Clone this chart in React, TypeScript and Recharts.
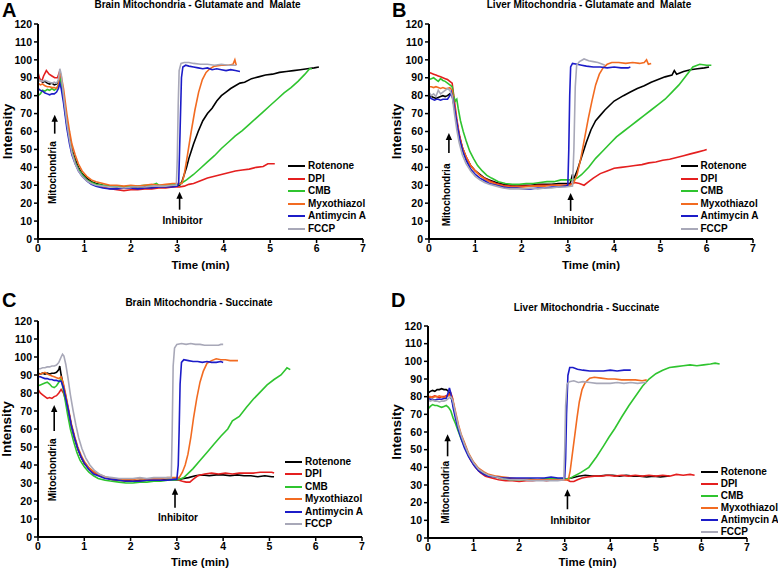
import React from "react";
import { LineChart, Line, XAxis, YAxis, ReferenceDot } from "recharts";

const SERIES_NAMES = ["Rotenone", "DPI", "CMB", "Myxothiazol", "Antimycin A", "FCCP"];
const SERIES_COLORS = ["#000000", "#e41f1f", "#2fc42f", "#f26b21", "#1c1cc8", "#a8a8b8"];
const X_TICKS = [0, 1, 2, 3, 4, 5, 6, 7];
const Y_TICKS = [0, 10, 20, 30, 40, 50, 60, 70, 80, 90, 100, 110, 120];

// A - brain, glutamate + malate
const A_ROTENONE = [[0,88],[0.05,89],[0.1,87.5],[0.15,88],[0.2,87],[0.25,86.5],[0.3,87],[0.35,86],[0.4,86.5],[0.44,88],[0.47,92],[0.5,88],[0.55,80],[0.62,66],[0.68,57],[0.73,50],[0.8,44.5],[0.87,40],[0.95,36.5],[1.05,34],[1.15,32],[1.25,31],[1.4,30],[1.55,29.5],[1.7,29],[1.85,28.5],[2.0,29],[2.15,28.5],[2.3,29],[2.45,29],[2.6,29.5],[2.75,29],[2.9,29.5],[3.0,29.5],[3.05,30],[3.1,32],[3.15,36],[3.2,40],[3.25,45],[3.3,49],[3.35,53],[3.45,60],[3.55,66],[3.65,70],[3.75,73],[3.85,77],[3.95,80],[4.05,82],[4.15,84],[4.25,85.5],[4.35,87],[4.45,87.5],[4.6,89.5],[4.75,90.5],[4.9,91.5],[5.05,92],[5.2,93],[5.35,93.5],[5.5,94],[5.65,94.5],[5.8,95],[5.95,95.5],[6.05,96]];
const A_DPI = [[0,93],[0.04,89],[0.08,88],[0.12,91],[0.18,94],[0.24,92],[0.3,91],[0.36,90],[0.42,90],[0.46,93],[0.5,89],[0.55,80],[0.62,66],[0.68,56],[0.73,49],[0.8,43],[0.87,39],[0.95,35.5],[1.05,33],[1.15,31],[1.25,30],[1.4,29],[1.55,28],[1.7,27.5],[1.85,27],[2.0,27.5],[2.15,27.5],[2.3,28],[2.45,28],[2.6,28.5],[2.75,28.5],[2.9,29],[3.05,29],[3.15,29.5],[3.25,30.5],[3.35,31],[3.5,32.5],[3.65,34],[3.8,35],[3.95,36],[4.1,37],[4.25,38],[4.4,38.5],[4.55,39],[4.7,40],[4.85,40.5],[4.95,42],[5.05,42],[5.1,42]];
const A_CMB = [[0,80],[0.05,81],[0.1,83],[0.15,82.5],[0.2,83.5],[0.25,83],[0.3,84],[0.35,83],[0.4,84],[0.44,86],[0.47,90],[0.5,87],[0.55,78],[0.62,64],[0.68,55],[0.73,48.5],[0.8,43],[0.87,39],[0.95,36],[1.05,33],[1.15,31.5],[1.25,30.5],[1.4,30],[1.55,29.5],[1.7,29.5],[1.85,29],[2.0,29.5],[2.15,29.5],[2.3,30],[2.45,30],[2.55,31],[2.6,30],[2.75,30],[2.9,30.5],[3.05,30.5],[3.2,33],[3.35,36],[3.5,39.5],[3.65,43],[3.8,46.5],[3.95,50.5],[4.1,54],[4.25,57.5],[4.4,60.5],[4.55,64],[4.7,67.5],[4.85,71],[5.0,74.5],[5.15,78],[5.3,81.5],[5.45,84.5],[5.6,88],[5.75,92],[5.85,95],[5.9,95]];
const A_MYXO = [[0,87],[0.05,86],[0.1,86.5],[0.15,85.5],[0.2,85],[0.25,85],[0.3,84.5],[0.35,84.5],[0.4,84],[0.44,86],[0.47,93],[0.5,91],[0.55,84],[0.62,70],[0.68,60],[0.73,53],[0.8,47],[0.87,42],[0.95,38],[1.05,35],[1.15,33],[1.25,32],[1.4,31],[1.55,30],[1.7,30],[1.85,29.5],[2.0,30],[2.15,29.5],[2.3,30],[2.45,30.5],[2.6,30],[2.75,30.5],[2.9,31],[3.0,31],[3.1,31],[3.15,36],[3.22,47],[3.3,60],[3.38,72],[3.46,82],[3.54,89],[3.62,93],[3.7,95],[3.8,96.5],[3.95,97],[4.1,97],[4.2,97.5],[4.24,100],[4.27,97]];
const A_ANTI = [[0,84],[0.05,83],[0.1,82.5],[0.15,81.5],[0.2,81],[0.25,80.5],[0.3,81],[0.35,81],[0.4,82],[0.44,84],[0.47,87],[0.5,84],[0.55,76],[0.62,62],[0.68,53],[0.73,47],[0.8,42],[0.87,38],[0.95,35],[1.05,32.5],[1.15,30.5],[1.25,29.5],[1.4,28.5],[1.55,28],[1.7,28],[1.85,28.5],[2.0,28.5],[2.15,28],[2.3,28.5],[2.45,28.5],[2.6,29],[2.75,29],[2.9,29],[3.0,29.5],[3.03,31],[3.06,60],[3.09,90],[3.12,96],[3.18,97],[3.25,96.5],[3.35,96],[3.45,95.5],[3.55,95],[3.65,95.5],[3.75,94.5],[3.85,95],[3.95,94.5],[4.05,94],[4.15,94.5],[4.25,94],[4.35,93.5]];
const A_FCCP = [[0,89],[0.05,88.5],[0.1,88],[0.15,88.5],[0.2,88],[0.25,87.5],[0.3,87],[0.35,87.5],[0.4,87],[0.44,89],[0.47,95],[0.5,92],[0.55,80],[0.62,65],[0.68,55],[0.73,48],[0.8,42],[0.87,38],[0.95,35],[1.05,32.5],[1.15,31],[1.25,30],[1.4,29.5],[1.55,29],[1.7,29],[1.85,28.5],[2.0,29],[2.15,29],[2.3,29],[2.45,29.5],[2.6,29.5],[2.75,29.5],[2.9,30],[2.98,30],[3.0,45],[3.02,75],[3.04,94],[3.08,98],[3.15,98.5],[3.25,98.5],[3.35,98],[3.5,97.5],[3.65,97.5],[3.8,97],[3.95,97.5],[4.1,97],[4.27,97]];

// B - liver, glutamate + malate
const B_ROTENONE = [[0,80],[0.05,79.5],[0.1,79],[0.15,78.5],[0.2,79],[0.25,79.5],[0.3,80],[0.35,79.5],[0.4,80],[0.45,81],[0.5,80],[0.55,73],[0.6,65],[0.65,58],[0.72,51],[0.8,45.5],[0.9,41],[1.0,38],[1.1,36],[1.2,34],[1.3,33],[1.45,31.5],[1.6,30.5],[1.75,30],[1.9,29.5],[2.05,30],[2.2,30],[2.35,30.5],[2.5,30.5],[2.65,30.5],[2.8,31],[2.95,31],[3.05,31],[3.08,34],[3.1,36],[3.12,33],[3.2,38],[3.3,46],[3.4,54],[3.5,61],[3.6,66],[3.7,69],[3.8,72],[3.9,74.5],[4.0,77],[4.1,78.5],[4.2,80],[4.35,82],[4.5,84],[4.65,85.5],[4.8,87.5],[4.95,89],[5.1,90.5],[5.25,91.5],[5.3,94],[5.35,92],[5.5,93.5],[5.65,94.5],[5.8,95],[5.95,95.5],[6.05,96]];
const B_DPI = [[0,93],[0.05,92.5],[0.1,92],[0.15,91.5],[0.2,91],[0.25,90.5],[0.3,90],[0.35,89.5],[0.4,89],[0.45,88],[0.5,87],[0.55,77],[0.6,67],[0.65,59],[0.72,51],[0.8,46],[0.9,41],[1.0,38],[1.1,35.5],[1.2,34],[1.3,32.5],[1.45,31],[1.6,30],[1.75,29.5],[1.9,29.5],[2.05,29.5],[2.2,29.5],[2.35,30],[2.5,30],[2.65,30],[2.8,30],[2.95,30],[3.05,30.5],[3.15,31.5],[3.25,31],[3.35,30],[3.45,32],[3.55,34],[3.7,36.5],[3.85,38],[4.0,39.5],[4.15,40],[4.3,40.5],[4.45,41],[4.6,41.5],[4.75,42.5],[4.9,43],[5.05,44],[5.2,44.5],[5.35,45.5],[5.5,46.5],[5.65,47.5],[5.8,48.5],[5.95,49.5],[6.0,50]];
const B_CMB = [[0,89],[0.05,89.5],[0.1,90],[0.15,89],[0.2,88],[0.25,89.5],[0.3,88.5],[0.35,88],[0.4,87],[0.45,86],[0.5,85],[0.53,80],[0.57,77],[0.6,78],[0.63,73],[0.68,66],[0.74,60],[0.8,55],[0.88,49],[0.96,45],[1.05,41],[1.15,38],[1.25,35.5],[1.35,34],[1.5,32],[1.65,31],[1.8,30.5],[1.95,30.5],[2.1,31],[2.25,31],[2.4,31.5],[2.55,32],[2.7,32],[2.85,33],[3.0,33],[3.1,33],[3.2,34],[3.3,36],[3.45,40],[3.6,45],[3.75,49],[3.9,53],[4.05,57],[4.2,60],[4.35,63],[4.5,66],[4.65,69],[4.8,72],[4.95,75],[5.1,78],[5.25,82],[5.4,86],[5.55,91],[5.7,96],[5.85,97.5],[6.0,97],[6.1,97]];
const B_MYXO = [[0,85],[0.05,85],[0.1,84.5],[0.15,85],[0.2,84.5],[0.25,84],[0.3,84.5],[0.35,84],[0.4,84],[0.45,84.5],[0.5,83],[0.55,74],[0.6,66],[0.65,58],[0.72,51],[0.8,46],[0.9,41],[1.0,38],[1.1,35.5],[1.2,33.5],[1.3,32],[1.45,30.5],[1.6,29.5],[1.75,29],[1.9,29],[2.05,29],[2.2,29.5],[2.35,29.5],[2.5,29.5],[2.65,30],[2.8,30],[2.95,30],[3.05,30],[3.12,31],[3.2,36],[3.28,45],[3.36,56],[3.44,67],[3.52,77],[3.6,86],[3.68,92],[3.76,95.5],[3.85,97.5],[3.95,98.5],[4.1,98.5],[4.25,98],[4.4,98.5],[4.55,98],[4.65,98.5],[4.7,100],[4.74,97.5],[4.8,98]];
const B_ANTI = [[0,80],[0.04,78.5],[0.08,78],[0.12,77.5],[0.16,78],[0.2,78],[0.25,77.5],[0.3,78],[0.35,78],[0.4,78],[0.45,80],[0.48,82],[0.52,78],[0.57,70],[0.62,62],[0.67,55],[0.73,49],[0.8,44],[0.9,39],[1.0,36],[1.1,34],[1.2,32.5],[1.3,31],[1.45,30],[1.6,29],[1.75,28.5],[1.9,28.5],[2.05,28],[2.2,28],[2.35,28.5],[2.5,28.5],[2.65,29],[2.8,29],[2.95,29.5],[3.0,30],[3.02,50],[3.04,80],[3.06,96],[3.1,98],[3.2,97.5],[3.3,97],[3.4,96.5],[3.55,96],[3.7,96],[3.85,95.5],[4.0,96],[4.15,95.5],[4.3,95.5],[4.35,96]];
const B_FCCP = [[0,82],[0.05,80],[0.1,81],[0.15,79.5],[0.2,83],[0.25,81],[0.3,82],[0.35,83],[0.4,84],[0.45,83],[0.5,80],[0.55,70],[0.6,61],[0.65,54],[0.72,47],[0.8,42],[0.9,38],[1.0,35],[1.1,33],[1.2,31.5],[1.3,30.5],[1.45,29.5],[1.6,28.5],[1.75,28],[1.9,28],[2.05,28],[2.2,28.5],[2.35,28],[2.5,28.5],[2.65,28.5],[2.8,29],[2.95,29],[3.1,29.5],[3.13,50],[3.16,85],[3.19,97],[3.25,99],[3.35,100.5],[3.45,99.5],[3.55,99],[3.65,98.5],[3.75,97.5],[3.8,97]];

// C - brain, succinate
const C_ROTENONE = [[0,91],[0.05,90.5],[0.1,91],[0.15,90.5],[0.2,91],[0.25,90.5],[0.3,91],[0.35,91],[0.4,91.5],[0.45,93],[0.47,95],[0.5,90],[0.55,84],[0.6,78],[0.66,70],[0.72,62],[0.79,55],[0.86,49],[0.93,44.5],[1.0,41],[1.1,38],[1.2,36],[1.3,34.5],[1.45,33],[1.6,32],[1.75,31.5],[1.9,31.5],[2.05,31],[2.2,31.5],[2.35,31.5],[2.5,31.5],[2.65,31.5],[2.8,32],[2.95,32],[3.05,32],[3.15,32.5],[3.25,33],[3.4,34],[3.55,34.5],[3.7,34],[3.85,34.5],[4.0,34.5],[4.15,34],[4.3,34.5],[4.45,34],[4.6,34],[4.75,33.5],[4.9,34],[5.05,33.5],[5.1,33.5]];
const C_DPI = [[0,82],[0.05,80],[0.1,79],[0.15,78],[0.2,77],[0.25,77.5],[0.3,77],[0.35,78],[0.4,78.5],[0.45,80],[0.5,82],[0.55,80],[0.6,76],[0.66,69],[0.72,62],[0.79,55],[0.86,49],[0.93,44.5],[1.0,41],[1.1,38],[1.2,36],[1.3,34.5],[1.45,33],[1.6,32],[1.75,31.5],[1.9,31],[2.05,31],[2.2,31],[2.35,31.5],[2.5,31.5],[2.65,31.5],[2.8,31.5],[2.95,31.5],[3.05,31.5],[3.12,31],[3.2,30.5],[3.28,30.5],[3.35,32],[3.45,34],[3.6,35],[3.75,35.5],[3.9,35],[4.05,35.5],[4.2,35],[4.35,35.5],[4.5,35.5],[4.65,35.5],[4.8,36],[4.95,36],[5.05,36],[5.1,35.5]];
const C_CMB = [[0,84],[0.05,84.5],[0.1,85],[0.15,85.5],[0.2,86],[0.25,85],[0.3,83.5],[0.35,83],[0.4,84],[0.45,86],[0.5,88],[0.53,84],[0.58,77],[0.64,68],[0.7,60],[0.77,53],[0.84,47],[0.91,42.5],[1.0,39],[1.1,36],[1.2,34],[1.3,32.5],[1.45,31.5],[1.6,31],[1.75,30.5],[1.9,30],[2.05,30],[2.2,30.5],[2.35,30.5],[2.5,31],[2.65,31],[2.8,31.5],[2.95,31.5],[3.05,32],[3.15,33],[3.25,35.5],[3.35,38],[3.5,42.5],[3.65,47],[3.8,51.5],[3.95,56],[4.1,60],[4.2,64.5],[4.35,67],[4.5,72],[4.65,76.5],[4.8,80.5],[4.95,84.5],[5.1,87.5],[5.25,90],[5.35,93],[5.38,94],[5.45,93]];
const C_MYXO = [[0,90],[0.05,90.5],[0.1,91],[0.15,91.5],[0.2,90.5],[0.25,90],[0.3,89.5],[0.35,89],[0.4,88.5],[0.45,88],[0.5,89],[0.55,85],[0.6,79],[0.66,71],[0.72,63],[0.79,56],[0.86,50],[0.93,45.5],[1.0,42],[1.1,38.5],[1.2,36.5],[1.3,35],[1.45,33.5],[1.6,32.5],[1.75,32],[1.9,32],[2.05,32],[2.2,32.5],[2.35,32],[2.5,32.5],[2.65,32.5],[2.8,33],[2.95,33],[3.05,33],[3.12,36],[3.18,40],[3.24,46],[3.3,55],[3.36,66],[3.43,77],[3.5,86],[3.57,92],[3.65,96.5],[3.75,98],[3.85,99],[3.95,98.5],[4.05,98.5],[4.15,98],[4.25,98],[4.32,98]];
const C_ANTI = [[0,89],[0.05,89],[0.1,88.5],[0.15,88],[0.2,88],[0.25,87.5],[0.3,87.5],[0.35,87],[0.4,87],[0.45,86.5],[0.5,86.5],[0.55,83],[0.6,77],[0.66,70],[0.72,62],[0.79,55],[0.86,49],[0.93,44.5],[1.0,41],[1.1,37.5],[1.2,35],[1.3,34],[1.45,32.5],[1.6,32],[1.75,31.5],[1.9,31],[2.05,31],[2.2,31],[2.35,31.5],[2.5,31.5],[2.65,31.5],[2.8,31.5],[2.95,32],[3.0,32],[3.03,40],[3.05,60],[3.07,85],[3.1,97],[3.15,98.5],[3.25,98],[3.35,97.5],[3.45,97.5],[3.55,97],[3.65,97.5],[3.75,97],[3.85,97],[3.95,97.5],[4.0,97]];
const C_FCCP = [[0,93.5],[0.05,93.5],[0.1,94],[0.15,94],[0.2,94.5],[0.25,94.5],[0.3,95],[0.35,95],[0.4,95.5],[0.45,97],[0.5,100],[0.53,101.5],[0.56,100.5],[0.6,96],[0.65,88],[0.7,79],[0.76,70],[0.82,62],[0.88,55],[0.95,49],[1.03,44],[1.12,40],[1.22,37],[1.32,35],[1.45,33.5],[1.6,33],[1.75,32.5],[1.9,32.5],[2.05,32.5],[2.2,33],[2.35,32.5],[2.5,33],[2.65,33],[2.8,33],[2.88,33],[2.9,60],[2.92,95],[2.95,105],[3.0,107],[3.1,107.5],[3.2,107],[3.3,107.5],[3.4,107],[3.5,107],[3.6,106.5],[3.7,106.5],[3.8,106.5],[3.9,106.5],[3.95,107],[4.0,107]];

// D - liver, succinate
const D_ROTENONE = [[0,82],[0.05,83],[0.1,83.5],[0.15,83],[0.2,84],[0.25,84],[0.3,84.5],[0.35,84],[0.4,84],[0.45,83],[0.5,80],[0.55,76],[0.6,70],[0.67,62],[0.73,57.5],[0.8,53],[0.89,47],[1.0,42],[1.11,38.5],[1.22,36.5],[1.33,35.5],[1.5,34.5],[1.7,33.5],[1.85,33.5],[2.0,33.5],[2.15,33],[2.3,33],[2.45,33],[2.6,33.5],[2.75,33],[2.9,33.5],[3.05,33.5],[3.15,34],[3.3,35],[3.45,35.5],[3.6,35],[3.75,35],[3.9,35.5],[4.05,35.5],[4.2,35],[4.35,35.5],[4.5,35],[4.65,35],[4.8,34.5],[4.95,35],[5.1,34.5],[5.25,35],[5.3,35]];
const D_DPI = [[0,80],[0.05,79.5],[0.1,80],[0.15,80.5],[0.2,80],[0.25,79.5],[0.3,80],[0.35,80],[0.4,80.5],[0.45,81],[0.5,82],[0.53,80],[0.58,73],[0.64,65],[0.7,59],[0.77,54],[0.85,49],[0.94,44],[1.04,40],[1.15,37],[1.26,35],[1.4,34],[1.55,33],[1.7,32.5],[1.85,32.5],[2.0,32],[2.15,32.5],[2.3,32.5],[2.45,33],[2.6,32.5],[2.75,33],[2.9,33],[3.05,33],[3.12,32],[3.2,32],[3.28,33],[3.38,34],[3.5,34.5],[3.65,35],[3.8,35],[3.95,35.5],[4.1,35],[4.25,35.5],[4.4,35],[4.55,35.5],[4.7,35],[4.85,35.5],[5.0,35],[5.15,35.5],[5.3,35],[5.45,36],[5.6,35.5],[5.75,36],[5.85,35.5]];
const D_CMB = [[0,73],[0.05,74.5],[0.1,75.5],[0.15,75],[0.2,75],[0.25,74.5],[0.3,74],[0.35,74.5],[0.4,75],[0.45,74],[0.5,72],[0.55,68],[0.6,65],[0.67,60],[0.73,56],[0.8,52],[0.89,47],[1.0,42.5],[1.11,39],[1.22,37],[1.33,35.5],[1.5,34.5],[1.65,33.5],[1.8,33],[1.95,33],[2.1,33],[2.25,33.5],[2.4,33],[2.55,33.5],[2.7,33.5],[2.85,33.5],[3.0,33.5],[3.1,33.5],[3.2,35],[3.35,37],[3.53,40],[3.7,46],[3.85,52],[3.97,57],[4.1,62],[4.25,68.5],[4.41,75],[4.56,80.5],[4.71,86],[4.85,90],[5.0,93],[5.15,95],[5.3,96.5],[5.45,97],[5.6,97.5],[5.75,98],[5.9,97.5],[6.05,98],[6.2,98.5],[6.3,99],[6.4,98.5]];
const D_MYXO = [[0,80],[0.05,80],[0.1,79.5],[0.15,80],[0.2,80],[0.25,80.5],[0.3,80],[0.35,79.5],[0.4,80],[0.45,80.5],[0.5,81],[0.54,79],[0.6,72],[0.67,64],[0.73,58.5],[0.8,54],[0.89,48],[1.0,43],[1.11,39.5],[1.22,37.5],[1.33,36],[1.5,35],[1.65,34.5],[1.8,34],[1.95,33.5],[2.1,33.5],[2.25,33],[2.4,33],[2.55,33],[2.7,33],[2.85,33],[3.0,33],[3.08,33],[3.12,38],[3.17,48],[3.22,58],[3.27,68],[3.32,77],[3.38,84],[3.45,88],[3.55,90.5],[3.65,91],[3.8,90.5],[3.95,90],[4.1,90],[4.25,89.5],[4.4,89.5],[4.55,89.5],[4.7,89],[4.8,89.5]];
const D_ANTI = [[0,79],[0.05,78.5],[0.1,78.5],[0.15,78],[0.2,78.5],[0.25,78.5],[0.3,78.5],[0.35,79],[0.4,79],[0.44,82],[0.47,85],[0.5,82],[0.55,74],[0.6,68],[0.67,61],[0.73,56],[0.8,51],[0.89,46],[1.0,41.5],[1.11,38],[1.22,36],[1.33,35],[1.5,34.5],[1.65,34],[1.8,34],[1.95,34],[2.1,34],[2.25,34],[2.4,34],[2.55,34],[2.7,34.5],[2.85,34],[3.0,34],[3.02,45],[3.04,70],[3.07,92],[3.11,96.5],[3.18,96.5],[3.28,95.5],[3.4,95],[3.55,94.5],[3.7,94.5],[3.85,94.5],[4.0,95],[4.15,94.5],[4.3,95],[4.45,95]];
const D_FCCP = [[0,78],[0.05,77.5],[0.1,78],[0.15,77.5],[0.2,77.5],[0.25,77],[0.3,77.5],[0.35,77.5],[0.4,78],[0.45,79],[0.5,80],[0.54,78],[0.6,71],[0.67,63],[0.73,58],[0.8,53],[0.89,47.5],[1.0,42.5],[1.11,39],[1.22,37],[1.33,35.5],[1.5,34.5],[1.65,33.5],[1.8,33],[1.95,33],[2.1,33],[2.25,32.5],[2.4,32.5],[2.55,32.5],[2.7,32.5],[2.85,32.5],[2.98,33],[3.0,50],[3.02,75],[3.05,87],[3.1,88.5],[3.2,89],[3.3,88],[3.4,88.5],[3.55,88],[3.7,87.5],[3.85,87.5],[4.0,87.5],[4.15,88],[4.3,87.5],[4.45,88],[4.6,87.5],[4.75,88],[4.8,88]];

const FONT = '"Liberation Sans", Arial, sans-serif';

const toPts = (arr: number[][]) => arr.map(([t, v]) => ({ t, v }));

const PANELS = [
  {
    letter: "A", title: "Brain Mitochondria - Glutamate and  Malate",
    series: [A_ROTENONE, A_DPI, A_CMB, A_MYXO, A_ANTI, A_FCCP],
    left: 0, top: 0, margin: { top: 24, right: 26, left: 0, bottom: 0 }, yw: 38, xh: 46, xOff: 16, yOff: 7,
    letterPos: [2, 0.4], titleX: 197.5, titleY: -1,
    mito: { t: 0.36, v: 69.4, len: 19, mid: 58 }, inh: { t: 3.05, v: 26.4, len: 18, mid: 29 },
    legend: { x: 288, y: 166, gap: 12.5 },
  },
  {
    letter: "B", title: "Liver Mitochondria - Glutamate and  Malate",
    series: [B_ROTENONE, B_DPI, B_CMB, B_MYXO, B_ANTI, B_FCCP],
    left: 389, top: 0, margin: { top: 24, right: 25, left: 0, bottom: 0 }, yw: 40, xh: 46, xOff: 16, yOff: 7,
    letterPos: [3, 0.4], titleX: 200, titleY: -1,
    mito: { t: 0.43, v: 59.2, len: 20, mid: 62 }, inh: { t: 3.06, v: 25.7, len: 18, mid: 28 },
    legend: { x: 291.5, y: 166, gap: 12.5 },
  },
  {
    letter: "C", title: "Brain Mitochondria - Succinate",
    series: [C_ROTENONE, C_DPI, C_CMB, C_MYXO, C_ANTI, C_FCCP],
    left: 0, top: 285, margin: { top: 36, right: 27, left: 0, bottom: 0 }, yw: 38, xh: 33, xOff: 4, yOff: 6,
    letterPos: [2, 5.4], titleX: 199, titleY: 11.6,
    mito: { t: 0.35, v: 73.4, len: 26, mid: 65 }, inh: { t: 2.96, v: 27.3, len: 20, mid: 30 },
    legend: { x: 285, y: 176.7, gap: 12.5 },
  },
  {
    letter: "D", title: "Liver Mitochondria - Succinate",
    series: [D_ROTENONE, D_DPI, D_CMB, D_MYXO, D_ANTI, D_FCCP],
    left: 389, top: 285, margin: { top: 41, right: 31, left: 0, bottom: 0 }, yw: 39, xh: 32, xOff: 4, yOff: 7,
    letterPos: [2, 5.4], titleX: 197.5, titleY: 16.6,
    mito: { t: 0.43, v: 58.7, len: 22, mid: 58 }, inh: { t: 3.06, v: 27.6, len: 20, mid: 31 },
    legend: { x: 311.7, y: 186.7, gap: 12.1 },
  },
];

const TXT = { fontFamily: FONT, fontWeight: 700, fill: "#000" };

function Arrow({ cx, cy, len }: { cx: number; cy: number; len: number }) {
  return (
    <g>
      <line x1={cx} y1={cy + 5} x2={cx} y2={cy + len} stroke="#000" strokeWidth={1.6} />
      <polygon points={`${cx},${cy} ${cx - 3.2},${cy + 7} ${cx + 3.2},${cy + 7}`} fill="#000" />
    </g>
  );
}

function MitoMark(p: any, len: number, mid: number) {
  const { cx, cy } = p;
  const tx = cx - 2;
  const ty = cy + mid;
  return (
    <g>
      <Arrow cx={cx} cy={cy} len={len} />
      <text x={tx} y={ty} transform={`rotate(-90 ${tx} ${ty})`} textAnchor="middle" dominantBaseline="central" fontSize={10} {...TXT}>
        Mitochondria
      </text>
    </g>
  );
}

function InhMark(p: any, len: number, mid: number) {
  const { cx, cy } = p;
  return (
    <g>
      <Arrow cx={cx} cy={cy} len={len} />
      <text x={cx + 3} y={cy + mid} textAnchor="middle" dominantBaseline="central" fontSize={10} {...TXT}>
        Inhibitor
      </text>
    </g>
  );
}

function Panel({ cfg }: { cfg: (typeof PANELS)[number] }) {
  return (
    <div style={{ position: "absolute", left: cfg.left, top: cfg.top, width: 389, height: 285 }}>
      <LineChart width={389} height={285} margin={cfg.margin}>
        <XAxis
          type="number"
          dataKey="t"
          domain={[0, 7]}
          ticks={X_TICKS}
          interval={0}
          height={cfg.xh}
          allowDataOverflow
          axisLine={{ stroke: "#000", strokeWidth: 2 }}
          tickLine={{ stroke: "#000", strokeWidth: 1.5 }}
          tickSize={4}
          tick={{ fontSize: 10.5, ...TXT }}
          label={{ value: "Time (min)", position: "insideBottom", offset: cfg.xOff, style: { fontSize: 11.5, ...TXT, textAnchor: "middle" } }}
        />
        <YAxis
          type="number"
          domain={[0, 120]}
          ticks={Y_TICKS}
          interval={0}
          width={cfg.yw}
          allowDataOverflow
          axisLine={{ stroke: "#000", strokeWidth: 2 }}
          tickLine={{ stroke: "#000", strokeWidth: 1.5 }}
          tickSize={4}
          tick={{ fontSize: 10.5, ...TXT }}
          label={{ value: "Intensity", angle: -90, position: "insideLeft", offset: cfg.yOff, style: { fontSize: 13.5, ...TXT, textAnchor: "middle" } }}
        />
        {cfg.series.map((s, i) => (
          <Line
            key={SERIES_NAMES[i]}
            data={toPts(s)}
            dataKey="v"
            name={SERIES_NAMES[i]}
            type="linear"
            stroke={SERIES_COLORS[i]}
            strokeWidth={1.6}
            dot={false}
            activeDot={false}
            isAnimationActive={false}
          />
        ))}
        <ReferenceDot x={cfg.mito.t} y={cfg.mito.v} r={1} shape={(p: any) => MitoMark(p, cfg.mito.len, cfg.mito.mid)} />
        <ReferenceDot x={cfg.inh.t} y={cfg.inh.v} r={1} shape={(p: any) => InhMark(p, cfg.inh.len, cfg.inh.mid)} />
      </LineChart>
      <div style={{ position: "absolute", left: cfg.letterPos[0], top: cfg.letterPos[1], fontFamily: FONT, fontWeight: 700, fontSize: 20, lineHeight: "20px" }}>
        {cfg.letter}
      </div>
      <div
        style={{
          position: "absolute", left: cfg.titleX - 150, width: 300, top: cfg.titleY, textAlign: "center",
          fontFamily: FONT, fontWeight: 700, fontSize: 10, lineHeight: "12px", whiteSpace: "pre",
        }}
      >
        {cfg.title}
      </div>
      {SERIES_NAMES.map((n, i) => (
        <div key={n}>
          <div
            style={{
              position: "absolute", left: cfg.legend.x, top: cfg.legend.y + i * cfg.legend.gap - 1,
              width: 17, height: 2, background: SERIES_COLORS[i],
            }}
          />
          <div
            style={{
              position: "absolute", left: cfg.legend.x + 20, top: cfg.legend.y + i * cfg.legend.gap - 6,
              fontFamily: FONT, fontWeight: 700, fontSize: 10, lineHeight: "12px", whiteSpace: "nowrap",
            }}
          >
            {n}
          </div>
        </div>
      ))}
    </div>
  );
}

export default function App() {
  return (
    <div style={{ position: "absolute", left: 0, top: 0, width: 778, height: 570, background: "#fff", overflow: "hidden" }}>
      {PANELS.map((p) => (
        <Panel key={p.letter} cfg={p} />
      ))}
    </div>
  );
}
